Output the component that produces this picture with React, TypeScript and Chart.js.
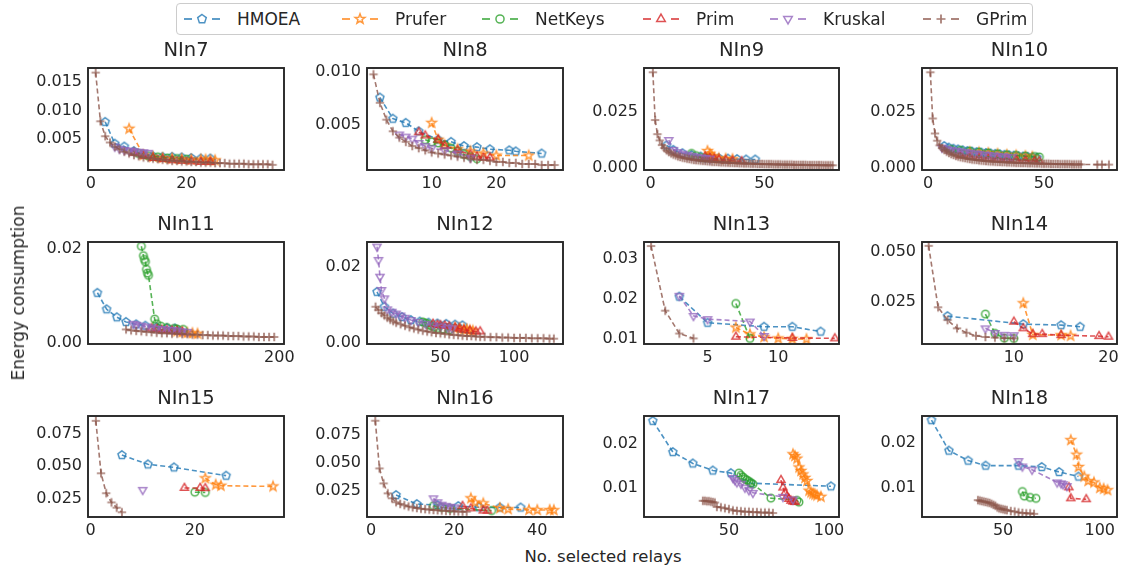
import React, { useEffect, useRef } from "react";
import { Chart, registerables } from "chart.js";
Chart.register(...registerables);

const FONT = "'DejaVu Sans', 'Liberation Sans', sans-serif";
const TEXT = "#262626";

const SERIES = ["HMOEA", "Prufer", "NetKeys", "Prim", "Kruskal", "GPrim"];
const COLORS = ["#1f77b4", "#ff7f0e", "#2ca02c", "#d62728", "#9467bd", "#8c564b"];
const MARKERS = ["pentagon", "star", "circle", "triangleUp", "triangleDown", "plus"];

// ---------------- NIn7 ----------------
const NIN7_HMOEA_X = [3, 5, 7, 9, 11, 13, 15, 17, 19, 21, 23, 25];
const NIN7_HMOEA_Y = [0.008, 0.0042, 0.0037, 0.0029, 0.0023, 0.002, 0.0019, 0.0019, 0.0018, 0.0017, 0.0016, 0.0016];
const NIN7_PRUFER_X = [8, 11, 13, 15, 17, 19, 21, 23, 24, 25, 26];
const NIN7_PRUFER_Y = [0.0068, 0.0022, 0.0019, 0.0017, 0.0016, 0.0015, 0.0014, 0.0014, 0.0014, 0.0013, 0.0013];
const NIN7_NETKEYS_X = [10, 12, 14, 16, 18, 20];
const NIN7_NETKEYS_Y = [0.0025, 0.0021, 0.0019, 0.0017, 0.0016, 0.0015];
const NIN7_PRIM_X = [9, 11, 13, 15, 17, 19, 21, 23, 25];
const NIN7_PRIM_Y = [0.0026, 0.0021, 0.0017, 0.0015, 0.0013, 0.0012, 0.0011, 0.001, 0.001];
const NIN7_KRUSKAL_X = [5, 6, 7, 8, 9, 10, 11, 12];
const NIN7_KRUSKAL_Y = [0.0037, 0.0033, 0.0031, 0.003, 0.0029, 0.0028, 0.0027, 0.0026];
const NIN7_GPRIM_X = [1, 2, 3, 4, 5, 6, 7, 8, 9, 10, 11, 12, 13, 14, 15, 16, 17, 18, 19, 20, 21, 22, 23, 24, 25, 26, 27, 28, 29, 30, 31, 32, 33, 34, 35, 36, 37, 38];
const NIN7_GPRIM_Y = [0.0166, 0.0081, 0.0055, 0.0044, 0.0037, 0.0032, 0.0028, 0.0025, 0.0022, 0.002, 0.0018, 0.0017, 0.0016, 0.0015, 0.0014, 0.0013, 0.0012, 0.0012, 0.0011, 0.0011, 0.001, 0.001, 0.0009, 0.0009, 0.0009, 0.0008, 0.0008, 0.0008, 0.0007, 0.0007, 0.0007, 0.0007, 0.0006, 0.0006, 0.0006, 0.0006, 0.0006, 0.0005];

// ---------------- NIn8 ----------------
const NIN8_HMOEA_X = [2, 4, 6, 8, 11, 13, 15, 17, 19, 22, 23, 27];
const NIN8_HMOEA_Y = [0.0076, 0.0056, 0.0052, 0.0044, 0.0036, 0.0034, 0.003, 0.0029, 0.0027, 0.0026, 0.0025, 0.0023];
const NIN8_PRUFER_X = [10, 11, 12, 14, 16, 18, 20, 25];
const NIN8_PRUFER_Y = [0.0052, 0.0036, 0.0031, 0.0027, 0.0025, 0.0023, 0.0021, 0.0021];
const NIN8_NETKEYS_X = [9, 10, 11, 12, 13, 14, 15, 16, 17];
const NIN8_NETKEYS_Y = [0.0036, 0.0034, 0.0033, 0.0031, 0.0028, 0.0025, 0.0022, 0.002, 0.0018];
const NIN8_PRIM_X = [8, 9, 11, 12, 14, 16, 17, 18, 19];
const NIN8_PRIM_Y = [0.0043, 0.004, 0.0036, 0.003, 0.0026, 0.0022, 0.002, 0.0019, 0.0019];
const NIN8_KRUSKAL_X = [5, 6, 7, 8, 9, 10, 12, 14, 16];
const NIN8_KRUSKAL_Y = [0.0041, 0.0039, 0.0037, 0.0033, 0.003, 0.0028, 0.0026, 0.0023, 0.0019];
const NIN8_GPRIM_X = [1, 2, 3, 4, 5, 6, 7, 8, 9, 10, 11, 12, 13, 14, 15, 16, 17, 18, 19, 20, 21, 22, 23, 24, 25, 26, 27, 28, 29];
const NIN8_GPRIM_Y = [0.0098, 0.0071, 0.0055, 0.0044, 0.0038, 0.0034, 0.003, 0.0028, 0.0026, 0.0024, 0.0023, 0.0022, 0.0021, 0.002, 0.0019, 0.0018, 0.0017, 0.0017, 0.0016, 0.0015, 0.0015, 0.0014, 0.0014, 0.0013, 0.0013, 0.0013, 0.0012, 0.0012, 0.0012];

// ---------------- NIn9 ----------------
const NIN9_HMOEA_X = [7, 10, 14, 18, 22, 26, 30, 34, 38, 42, 46];
const NIN9_HMOEA_Y = [0.01, 0.008, 0.0065, 0.0057, 0.005, 0.0046, 0.0043, 0.0041, 0.0039, 0.0037, 0.0037];
const NIN9_PRUFER_X = [25, 26, 27, 28, 30, 33, 36];
const NIN9_PRUFER_Y = [0.0075, 0.0062, 0.0052, 0.0046, 0.0042, 0.004, 0.0038];
const NIN9_NETKEYS_X = [18, 20, 22, 24];
const NIN9_NETKEYS_Y = [0.0064, 0.0054, 0.0046, 0.0043];
const NIN9_PRIM_X = [24, 26, 28, 30, 33, 36, 40];
const NIN9_PRIM_Y = [0.005, 0.0044, 0.004, 0.0036, 0.0033, 0.0031, 0.0029];
const NIN9_KRUSKAL_X = [8, 10, 12, 14, 16, 18, 20, 22, 24, 26];
const NIN9_KRUSKAL_Y = [0.0124, 0.008, 0.007, 0.0063, 0.0058, 0.0054, 0.005, 0.0047, 0.0044, 0.0041];
const NIN9_GPRIM_X = [1, 2, 3, 4, 5, 6, 7, 8, 9, 10, 11, 12, 13, 14, 15, 16, 17, 18, 19, 20, 21, 22, 23, 24, 25, 26, 27, 28, 29, 30, 31, 32, 33, 34, 35, 36, 37, 38, 39, 40, 41, 42, 43, 44, 45, 46, 47, 48, 49, 50, 51, 52, 53, 54, 55, 56, 57, 58, 59, 60, 61, 62, 63, 64, 65, 66, 67, 68, 69, 70, 71, 72, 73, 74, 75, 76, 77, 78, 79, 80];
const NIN9_GPRIM_Y = [
  0.0426, 0.0213, 0.015, 0.0122, 0.0101, 0.0088, 0.0078, 0.007, 0.0064, 0.0059,
  0.0055, 0.0051, 0.0048, 0.0045, 0.0043, 0.0041, 0.0039, 0.0037, 0.0035, 0.0034,
  0.0033, 0.0032, 0.0031, 0.003, 0.0029, 0.0028, 0.0027, 0.0026, 0.0026, 0.0025,
  0.0024, 0.0024, 0.0023, 0.0023, 0.0022, 0.0022, 0.0021, 0.0021, 0.002, 0.002,
  0.0019, 0.0019, 0.0019, 0.0018, 0.0018, 0.0018, 0.0017, 0.0017, 0.0017, 0.0016,
  0.0016, 0.0016, 0.0016, 0.0015, 0.0015, 0.0015, 0.0015, 0.0014, 0.0014, 0.0014,
  0.0014, 0.0014, 0.0013, 0.0013, 0.0013, 0.0013, 0.0013, 0.0013, 0.0012, 0.0012,
  0.0012, 0.0012, 0.0012, 0.0012, 0.0012, 0.0011, 0.0011, 0.0011, 0.0011, 0.0011,
];

// ---------------- NIn10 ----------------
const NIN10_HMOEA_X = [7, 9, 11, 13, 15, 17, 19, 21, 23, 25, 27, 29, 31, 33, 35, 37, 39, 41, 43, 45, 47];
const NIN10_HMOEA_Y = [0.0097, 0.009, 0.0085, 0.0082, 0.0078, 0.0075, 0.0072, 0.007, 0.0068, 0.0066, 0.0064, 0.0062, 0.006, 0.0058, 0.0056, 0.0054, 0.0052, 0.005, 0.0049, 0.0047, 0.0045];
const NIN10_PRUFER_X = [18, 22, 26, 30, 34, 38, 42, 45];
const NIN10_PRUFER_Y = [0.007, 0.0068, 0.0066, 0.0062, 0.0058, 0.0055, 0.0052, 0.0049];
const NIN10_NETKEYS_X = [10, 14, 18, 22, 26, 30, 34, 38, 42, 46, 48];
const NIN10_NETKEYS_Y = [0.0082, 0.0078, 0.0074, 0.007, 0.0066, 0.0062, 0.0058, 0.0055, 0.0052, 0.005, 0.0048];
const NIN10_PRIM_X = [14, 18, 22, 26, 30, 34, 38, 42, 46, 48];
const NIN10_PRIM_Y = [0.0055, 0.005, 0.0046, 0.0043, 0.004, 0.0037, 0.0035, 0.0032, 0.003, 0.0029];
const NIN10_KRUSKAL_X = [6, 8, 10, 12, 14, 16, 18, 20, 22, 24, 26, 28, 30, 32, 34, 36];
const NIN10_KRUSKAL_Y = [0.009, 0.0085, 0.008, 0.0076, 0.0073, 0.007, 0.0067, 0.0064, 0.0062, 0.0059, 0.0057, 0.0055, 0.0053, 0.0051, 0.0049, 0.0047];
const NIN10_GPRIM_X = [1, 2, 3, 4, 5, 6, 7, 8, 9, 10, 11, 12, 13, 14, 15, 16, 17, 18, 19, 20, 21, 22, 23, 24, 25, 26, 27, 28, 29, 30, 31, 32, 33, 34, 35, 36, 37, 38, 39, 40, 41, 42, 43, 44, 45, 46, 47, 48, 49, 50, 51, 52, 53, 54, 55, 56, 57, 58, 59, 60, 61, 62, 63, 64, 65, 66, 73, 75, 78];
const NIN10_GPRIM_Y = [
  0.0426, 0.022, 0.0153, 0.0121, 0.01, 0.0088, 0.0079, 0.0072, 0.0066, 0.0061,
  0.0057, 0.0053, 0.005, 0.0047, 0.0045, 0.0043, 0.0041, 0.0039, 0.0037, 0.0036,
  0.0035, 0.0033, 0.0032, 0.0031, 0.003, 0.0029, 0.0028, 0.0028, 0.0027, 0.0026,
  0.0026, 0.0025, 0.0025, 0.0024, 0.0024, 0.0023, 0.0023, 0.0022, 0.0022, 0.0021,
  0.0021, 0.0021, 0.002, 0.002, 0.002, 0.0019, 0.0019, 0.0019, 0.0018, 0.0018,
  0.0018, 0.0018, 0.0017, 0.0017, 0.0017, 0.0017, 0.0016, 0.0016, 0.0016, 0.0016,
  0.0016, 0.0015, 0.0015, 0.0015, 0.0015, 0.0015, 0.0014, 0.0014, 0.0014,
];

// ---------------- NIn11 ----------------
const NIN11_HMOEA_X = [22, 31, 41, 50, 60, 69, 80, 90, 98];
const NIN11_HMOEA_Y = [0.0107, 0.0072, 0.0055, 0.0045, 0.004, 0.0037, 0.0034, 0.0032, 0.0031];
const NIN11_PRUFER_X = [100, 105, 110, 115, 120];
const NIN11_PRUFER_Y = [0.0025, 0.0023, 0.0022, 0.0021, 0.002];
const NIN11_NETKEYS_X = [65, 67, 68, 69, 70, 71, 72, 78, 80, 84, 90, 97, 100, 106];
const NIN11_NETKEYS_Y = [0.0206, 0.0186, 0.0178, 0.0173, 0.0157, 0.0149, 0.0144, 0.0051, 0.0041, 0.0036, 0.0033, 0.0031, 0.003, 0.0029];
const NIN11_PRIM_X = [75, 80, 85, 90, 95, 100, 105];
const NIN11_PRIM_Y = [0.0031, 0.003, 0.0028, 0.0027, 0.0026, 0.0025, 0.0024];
const NIN11_KRUSKAL_X = [57, 60, 65, 70, 75, 80, 85, 90, 95, 100, 105, 110];
const NIN11_KRUSKAL_Y = [0.0041, 0.0039, 0.0037, 0.0035, 0.0033, 0.0031, 0.003, 0.0029, 0.0028, 0.0027, 0.0025, 0.0024];
const NIN11_GPRIM_X = [50, 55, 60, 65, 70, 75, 80, 85, 90, 95, 100, 105, 110, 115, 120, 125, 130, 135, 140, 145, 150, 155, 160, 165, 170, 175, 180, 185, 190, 195];
const NIN11_GPRIM_Y = [0.0029, 0.0027, 0.0026, 0.0025, 0.0024, 0.0023, 0.0022, 0.0021, 0.0021, 0.002, 0.002, 0.0019, 0.0019, 0.0018, 0.0018, 0.0017, 0.0017, 0.0016, 0.0016, 0.0016, 0.0015, 0.0015, 0.0015, 0.0014, 0.0014, 0.0014, 0.0013, 0.0013, 0.0013, 0.0013];

// ---------------- NIn12 ----------------
const NIN12_HMOEA_X = [7, 12, 18, 24, 30, 36, 42, 48, 54, 60, 65];
const NIN12_HMOEA_Y = [0.0134, 0.0095, 0.0077, 0.0068, 0.006, 0.0056, 0.0053, 0.0051, 0.005, 0.0048, 0.0046];
const NIN12_PRUFER_X = [60, 63, 66, 68, 70, 72];
const NIN12_PRUFER_Y = [0.004, 0.0038, 0.0036, 0.0035, 0.0033, 0.0032];
const NIN12_NETKEYS_X = [38, 40, 42, 44, 46, 48, 52, 56];
const NIN12_NETKEYS_Y = [0.0055, 0.0052, 0.0048, 0.0044, 0.0041, 0.0038, 0.0036, 0.0034];
const NIN12_PRIM_X = [45, 48, 50, 53, 56, 60, 63, 66, 70, 74, 77];
const NIN12_PRIM_Y = [0.005, 0.0047, 0.0046, 0.0045, 0.0043, 0.004, 0.0037, 0.0034, 0.0032, 0.003, 0.003];
const NIN12_KRUSKAL_X = [7, 8, 9, 10, 12, 14, 17, 20, 23, 26, 30, 35, 40, 45, 50, 55, 58];
const NIN12_KRUSKAL_Y = [0.0253, 0.0218, 0.0174, 0.0139, 0.0117, 0.0088, 0.0082, 0.0077, 0.0072, 0.0066, 0.006, 0.0055, 0.005, 0.0046, 0.0043, 0.004, 0.0038];
const NIN12_GPRIM_X = [6, 8, 10, 12, 14, 16, 18, 20, 23, 26, 29, 32, 35, 38, 41, 44, 47, 50, 53, 56, 59, 62, 65, 68, 71, 74, 77, 80, 84, 88, 92, 96, 100, 104, 108, 112, 116, 120, 124, 127];
const NIN12_GPRIM_Y = [0.0095, 0.0086, 0.0078, 0.0072, 0.0066, 0.0061, 0.0057, 0.0053, 0.0049, 0.0045, 0.0041, 0.0038, 0.0035, 0.0032, 0.003, 0.0028, 0.0026, 0.0025, 0.0024, 0.0022, 0.0021, 0.002, 0.0019, 0.0018, 0.0018, 0.0017, 0.0016, 0.0016, 0.0015, 0.0015, 0.0014, 0.0014, 0.0013, 0.0013, 0.0013, 0.0012, 0.0012, 0.0012, 0.0011, 0.0011];

// ---------------- NIn13 ----------------
const NIN13_HMOEA_X = [3, 5, 9, 11, 13];
const NIN13_HMOEA_Y = [0.0205, 0.014, 0.013, 0.013, 0.0118];
const NIN13_PRUFER_X = [7, 8, 9, 10, 11, 12];
const NIN13_PRUFER_Y = [0.0128, 0.0111, 0.0104, 0.0101, 0.01, 0.0099];
const NIN13_NETKEYS_X = [7, 8];
const NIN13_NETKEYS_Y = [0.0188, 0.0101];
const NIN13_PRIM_X = [7, 11, 14];
const NIN13_PRIM_Y = [0.0105, 0.0102, 0.0101];
const NIN13_KRUSKAL_X = [3, 4, 5, 8, 9];
const NIN13_KRUSKAL_Y = [0.0207, 0.0157, 0.0149, 0.0143, 0.0107];
const NIN13_GPRIM_X = [1, 2, 3, 4];
const NIN13_GPRIM_Y = [0.0331, 0.017, 0.0113, 0.0101];

// ---------------- NIn14 ----------------
const NIN14_HMOEA_X = [3, 11, 15, 17];
const NIN14_HMOEA_Y = [0.0178, 0.0138, 0.0133, 0.0125];
const NIN14_PRUFER_X = [11, 12, 15, 16];
const NIN14_PRUFER_Y = [0.0242, 0.0085, 0.0083, 0.008];
const NIN14_NETKEYS_X = [7, 8, 9, 10];
const NIN14_NETKEYS_Y = [0.0188, 0.0092, 0.0068, 0.0067];
const NIN14_PRIM_X = [10, 11, 12, 13, 15, 19, 20];
const NIN14_PRIM_Y = [0.015, 0.0117, 0.0088, 0.0088, 0.0083, 0.0078, 0.0075];
const NIN14_KRUSKAL_X = [7, 8, 9, 10];
const NIN14_KRUSKAL_Y = [0.0117, 0.0094, 0.0085, 0.0083];
const NIN14_GPRIM_X = [1, 2, 3, 4, 5, 6, 7, 8, 9, 10];
const NIN14_GPRIM_Y = [0.0528, 0.0222, 0.0158, 0.0117, 0.0095, 0.008, 0.0074, 0.0071, 0.0068, 0.0067];

// ---------------- NIn15 ----------------
const NIN15_HMOEA_X = [6, 11, 16, 26];
const NIN15_HMOEA_Y = [0.0586, 0.0515, 0.0492, 0.0429];
const NIN15_PRUFER_X = [22, 24, 25, 35];
const NIN15_PRUFER_Y = [0.0409, 0.036, 0.0352, 0.0347];
const NIN15_NETKEYS_X = [20, 22];
const NIN15_NETKEYS_Y = [0.0303, 0.0301];
const NIN15_PRIM_X = [18, 21, 22];
const NIN15_PRIM_Y = [0.0335, 0.0335, 0.0333];
const NIN15_KRUSKAL_X = [10];
const NIN15_KRUSKAL_Y = [0.0321];
const NIN15_GPRIM_X = [1, 2, 3, 4, 5, 6];
const NIN15_GPRIM_Y = [0.0846, 0.0447, 0.0295, 0.0225, 0.0185, 0.015];

// ---------------- NIn16 ----------------
const NIN16_HMOEA_X = [6, 11, 16, 21, 26, 31, 36];
const NIN16_HMOEA_Y = [0.0214, 0.0134, 0.0125, 0.0116, 0.0105, 0.0103, 0.0103];
const NIN16_PRUFER_X = [24, 25, 27, 31, 33, 38, 40, 43, 44];
const NIN16_PRUFER_Y = [0.0185, 0.0148, 0.014, 0.0097, 0.0088, 0.0082, 0.008, 0.008, 0.0079];
const NIN16_NETKEYS_X = [15, 17, 19, 29];
const NIN16_NETKEYS_Y = [0.0118, 0.0104, 0.0095, 0.0075];
const NIN16_PRIM_X = [22, 24, 27, 28];
const NIN16_PRIM_Y = [0.0116, 0.0095, 0.0075, 0.0074];
const NIN16_KRUSKAL_X = [15, 16, 17, 18, 19, 20];
const NIN16_KRUSKAL_Y = [0.0185, 0.015, 0.0128, 0.0118, 0.011, 0.0105];
const NIN16_GPRIM_X = [1, 2, 3, 4, 5, 6, 7, 8, 9, 10, 11, 12, 13, 14, 15, 16, 17, 18, 19, 20, 21, 22, 23];
const NIN16_GPRIM_Y = [0.0878, 0.0452, 0.0318, 0.0229, 0.0185, 0.015, 0.0135, 0.0123, 0.0112, 0.0104, 0.0098, 0.0092, 0.0088, 0.0084, 0.0081, 0.0078, 0.0076, 0.0073, 0.0071, 0.0069, 0.0067, 0.0066, 0.0065];

// ---------------- NIn17 ----------------
const NIN17_HMOEA_X = [12, 22, 32, 42, 51, 61, 101];
const NIN17_HMOEA_Y = [0.0252, 0.0181, 0.0155, 0.0139, 0.0133, 0.011, 0.0103];
const NIN17_PRUFER_X = [82, 83, 84, 85, 86, 87, 88, 89, 90, 91, 92, 93, 94, 96];
const NIN17_PRUFER_Y = [0.0176, 0.0172, 0.0166, 0.0146, 0.0138, 0.013, 0.0122, 0.0115, 0.0093, 0.0089, 0.0086, 0.0084, 0.0082, 0.0079];
const NIN17_NETKEYS_X = [55, 56, 57, 58, 59, 60, 61, 62, 71, 84, 85];
const NIN17_NETKEYS_Y = [0.0133, 0.0128, 0.0124, 0.012, 0.0117, 0.0114, 0.0111, 0.0108, 0.0076, 0.0071, 0.0067];
const NIN17_PRIM_X = [76, 77, 78, 79, 80, 81, 82, 83];
const NIN17_PRIM_Y = [0.0117, 0.01, 0.0088, 0.008, 0.0074, 0.007, 0.0068, 0.0067];
const NIN17_KRUSKAL_X = [52, 53, 54, 56, 58, 60, 62, 77, 82];
const NIN17_KRUSKAL_Y = [0.0122, 0.0117, 0.0112, 0.0109, 0.01, 0.0094, 0.0088, 0.0079, 0.0073];
const NIN17_GPRIM_X = [37, 38, 39, 40, 41, 42, 43, 44, 46, 48, 50, 52, 54, 56, 58, 60, 62, 64, 66, 68, 70, 72];
const NIN17_GPRIM_Y = [0.007, 0.007, 0.0069, 0.0069, 0.0068, 0.0067, 0.0066, 0.0056, 0.0055, 0.0053, 0.0051, 0.0048, 0.0047, 0.0046, 0.0045, 0.0045, 0.0044, 0.0044, 0.0043, 0.0043, 0.0043, 0.0042];

// ---------------- NIn18 ----------------
const NIN18_HMOEA_X = [13, 22, 32, 41, 58, 70, 79, 89];
const NIN18_HMOEA_Y = [0.025, 0.0183, 0.0161, 0.015, 0.015, 0.0147, 0.0136, 0.0126];
const NIN18_PRUFER_X = [85, 88, 89, 92, 94, 97, 100, 102, 104];
const NIN18_PRUFER_Y = [0.0206, 0.0174, 0.0147, 0.0126, 0.0116, 0.0113, 0.0101, 0.0099, 0.0096];
const NIN18_NETKEYS_X = [60, 61, 64, 67];
const NIN18_NETKEYS_Y = [0.0093, 0.0083, 0.008, 0.0078];
const NIN18_PRIM_X = [84, 85, 93];
const NIN18_PRIM_Y = [0.0102, 0.0078, 0.0076];
const NIN18_KRUSKAL_X = [58, 60, 65, 78, 80, 81, 83];
const NIN18_KRUSKAL_Y = [0.016, 0.0148, 0.0141, 0.0113, 0.0111, 0.0109, 0.0105];
const NIN18_GPRIM_X = [37, 38, 39, 40, 41, 42, 43, 44, 45, 46, 47, 48, 49, 50, 51, 52, 54, 56, 58, 60, 62, 64, 66];
const NIN18_GPRIM_Y = [0.0074, 0.0073, 0.0072, 0.0071, 0.007, 0.0069, 0.0068, 0.0066, 0.0064, 0.0062, 0.0058, 0.0056, 0.0055, 0.0054, 0.0053, 0.0052, 0.005, 0.0049, 0.0047, 0.0046, 0.0045, 0.0045, 0.0044];

// Panel ticks and titles
const TITLES = ["NIn7", "NIn8", "NIn9", "NIn10", "NIn11", "NIn12", "NIn13", "NIn14", "NIn15", "NIn16", "NIn17", "NIn18"];
const X_TICKS = [[0, 20], [10, 20], [0, 50], [0, 50], [100, 200], [50, 100], [5, 10], [10, 20], [0, 20], [0, 20, 40], [50, 100], [50, 100]];
const Y_TICKS = [
  [0.005, 0.01, 0.015], [0.005, 0.01], [0, 0.025], [0, 0.025],
  [0, 0.02], [0, 0.02], [0.01, 0.02, 0.03], [0.025, 0.05],
  [0.025, 0.05, 0.075], [0.025, 0.05, 0.075], [0.01, 0.02], [0.01, 0.02],
];
const Y_DEC = [3, 3, 3, 3, 2, 2, 2, 3, 3, 3, 2, 2];
const X_RANGE = [[-0.6, 40.4], [0, 30.3], [-2.9, 82.8], [-2.6, 81.5], [12.8, 204.6], [0.2, 133.2], [0.5, 14.3], [0.3, 20.9], [-0.5, 37.1], [-1.0, 46.2], [7.6, 105], [8.1, 108.9]];
const Y_RANGE = [[-0.0004, 0.0174], [0.00073, 0.0104], [-0.001, 0.0445], [-0.001, 0.0445], [-0.0002, 0.0215], [-0.0003, 0.0265], [0.0087, 0.0341], [0.0039, 0.0547], [0.0114, 0.0883], [0.0018, 0.092], [0.0033, 0.0263], [0.0037, 0.0259]];

const PANEL_DATA: number[][][] = [
  [NIN7_HMOEA_X, NIN7_HMOEA_Y, NIN7_PRUFER_X, NIN7_PRUFER_Y, NIN7_NETKEYS_X, NIN7_NETKEYS_Y, NIN7_PRIM_X, NIN7_PRIM_Y, NIN7_KRUSKAL_X, NIN7_KRUSKAL_Y, NIN7_GPRIM_X, NIN7_GPRIM_Y],
  [NIN8_HMOEA_X, NIN8_HMOEA_Y, NIN8_PRUFER_X, NIN8_PRUFER_Y, NIN8_NETKEYS_X, NIN8_NETKEYS_Y, NIN8_PRIM_X, NIN8_PRIM_Y, NIN8_KRUSKAL_X, NIN8_KRUSKAL_Y, NIN8_GPRIM_X, NIN8_GPRIM_Y],
  [NIN9_HMOEA_X, NIN9_HMOEA_Y, NIN9_PRUFER_X, NIN9_PRUFER_Y, NIN9_NETKEYS_X, NIN9_NETKEYS_Y, NIN9_PRIM_X, NIN9_PRIM_Y, NIN9_KRUSKAL_X, NIN9_KRUSKAL_Y, NIN9_GPRIM_X, NIN9_GPRIM_Y],
  [NIN10_HMOEA_X, NIN10_HMOEA_Y, NIN10_PRUFER_X, NIN10_PRUFER_Y, NIN10_NETKEYS_X, NIN10_NETKEYS_Y, NIN10_PRIM_X, NIN10_PRIM_Y, NIN10_KRUSKAL_X, NIN10_KRUSKAL_Y, NIN10_GPRIM_X, NIN10_GPRIM_Y],
  [NIN11_HMOEA_X, NIN11_HMOEA_Y, NIN11_PRUFER_X, NIN11_PRUFER_Y, NIN11_NETKEYS_X, NIN11_NETKEYS_Y, NIN11_PRIM_X, NIN11_PRIM_Y, NIN11_KRUSKAL_X, NIN11_KRUSKAL_Y, NIN11_GPRIM_X, NIN11_GPRIM_Y],
  [NIN12_HMOEA_X, NIN12_HMOEA_Y, NIN12_PRUFER_X, NIN12_PRUFER_Y, NIN12_NETKEYS_X, NIN12_NETKEYS_Y, NIN12_PRIM_X, NIN12_PRIM_Y, NIN12_KRUSKAL_X, NIN12_KRUSKAL_Y, NIN12_GPRIM_X, NIN12_GPRIM_Y],
  [NIN13_HMOEA_X, NIN13_HMOEA_Y, NIN13_PRUFER_X, NIN13_PRUFER_Y, NIN13_NETKEYS_X, NIN13_NETKEYS_Y, NIN13_PRIM_X, NIN13_PRIM_Y, NIN13_KRUSKAL_X, NIN13_KRUSKAL_Y, NIN13_GPRIM_X, NIN13_GPRIM_Y],
  [NIN14_HMOEA_X, NIN14_HMOEA_Y, NIN14_PRUFER_X, NIN14_PRUFER_Y, NIN14_NETKEYS_X, NIN14_NETKEYS_Y, NIN14_PRIM_X, NIN14_PRIM_Y, NIN14_KRUSKAL_X, NIN14_KRUSKAL_Y, NIN14_GPRIM_X, NIN14_GPRIM_Y],
  [NIN15_HMOEA_X, NIN15_HMOEA_Y, NIN15_PRUFER_X, NIN15_PRUFER_Y, NIN15_NETKEYS_X, NIN15_NETKEYS_Y, NIN15_PRIM_X, NIN15_PRIM_Y, NIN15_KRUSKAL_X, NIN15_KRUSKAL_Y, NIN15_GPRIM_X, NIN15_GPRIM_Y],
  [NIN16_HMOEA_X, NIN16_HMOEA_Y, NIN16_PRUFER_X, NIN16_PRUFER_Y, NIN16_NETKEYS_X, NIN16_NETKEYS_Y, NIN16_PRIM_X, NIN16_PRIM_Y, NIN16_KRUSKAL_X, NIN16_KRUSKAL_Y, NIN16_GPRIM_X, NIN16_GPRIM_Y],
  [NIN17_HMOEA_X, NIN17_HMOEA_Y, NIN17_PRUFER_X, NIN17_PRUFER_Y, NIN17_NETKEYS_X, NIN17_NETKEYS_Y, NIN17_PRIM_X, NIN17_PRIM_Y, NIN17_KRUSKAL_X, NIN17_KRUSKAL_Y, NIN17_GPRIM_X, NIN17_GPRIM_Y],
  [NIN18_HMOEA_X, NIN18_HMOEA_Y, NIN18_PRUFER_X, NIN18_PRUFER_Y, NIN18_NETKEYS_X, NIN18_NETKEYS_Y, NIN18_PRIM_X, NIN18_PRIM_Y, NIN18_KRUSKAL_X, NIN18_KRUSKAL_Y, NIN18_GPRIM_X, NIN18_GPRIM_Y],
];

// Layout (page pixels) of the plot boxes
const COL_X = [[88, 284], [367, 563], [644, 839], [922, 1117]];
const ROW_Y = [[68, 170], [242, 344], [416, 517]];
const PAD_L = 75, PAD_R = 20, PAD_T = 32, PAD_B = 26;

function rgba(hex: string, a: number) {
  const n = parseInt(hex.slice(1), 16);
  return `rgba(${(n >> 16) & 255},${(n >> 8) & 255},${n & 255},${a})`;
}

function polyPoints(shape: string, cx: number, cy: number, r: number): number[][] {
  const pts: number[][] = [];
  const deg = Math.PI / 180;
  if (shape === "pentagon") {
    for (let k = 0; k < 5; k++) { const a = (-90 + 72 * k) * deg; pts.push([cx + r * Math.cos(a), cy + r * Math.sin(a)]); }
  } else if (shape === "star") {
    for (let k = 0; k < 10; k++) { const a = (-90 + 36 * k) * deg; const rr = k % 2 === 0 ? r * 1.15 : r * 0.48; pts.push([cx + rr * Math.cos(a), cy + rr * Math.sin(a)]); }
  } else if (shape === "triangleUp") {
    for (const d of [-90, 30, 150]) pts.push([cx + r * 1.1 * Math.cos(d * deg), cy + r * 1.1 * Math.sin(d * deg)]);
  } else if (shape === "triangleDown") {
    for (const d of [90, 210, 330]) pts.push([cx + r * 1.1 * Math.cos(d * deg), cy + r * 1.1 * Math.sin(d * deg)]);
  }
  return pts;
}

function traceMarker(ctx: CanvasRenderingContext2D, shape: string, cx: number, cy: number, r: number) {
  ctx.beginPath();
  if (shape === "circle") {
    ctx.arc(cx, cy, r * 0.9, 0, Math.PI * 2);
  } else if (shape === "plus") {
    ctx.moveTo(cx - r, cy); ctx.lineTo(cx + r, cy);
    ctx.moveTo(cx, cy - r); ctx.lineTo(cx, cy + r);
  } else {
    const pts = polyPoints(shape, cx, cy, r);
    pts.forEach((p, i) => (i === 0 ? ctx.moveTo(p[0], p[1]) : ctx.lineTo(p[0], p[1])));
    ctx.closePath();
  }
  ctx.stroke();
}

function makeMarker(shape: string, color: string, r: number) {
  const s = 16;
  const c = document.createElement("canvas");
  c.width = s; c.height = s;
  const ctx = c.getContext("2d")!;
  ctx.strokeStyle = rgba(color, 0.8);
  ctx.lineWidth = shape === "plus" ? 1.7 : 1.5;
  traceMarker(ctx, shape, s / 2, s / 2, r);
  return c;
}

const boxPlugin = {
  id: "boxFrame",
  afterDraw(chart: any) {
    const { ctx, chartArea: a } = chart;
    ctx.save();
    ctx.strokeStyle = TEXT;
    ctx.lineWidth = 1.9;
    ctx.strokeRect(a.left, a.top, a.right - a.left, a.bottom - a.top);
    ctx.restore();
  },
};

function Panel({ idx }: { idx: number }) {
  const ref = useRef<HTMLCanvasElement>(null);
  const col = idx % 4, row = Math.floor(idx / 4);
  const [bl, br] = COL_X[col];
  const [bt, bb] = ROW_Y[row];
  const W = br - bl + PAD_L + PAD_R;
  const H = bb - bt + PAD_T + PAD_B;
  useEffect(() => {
    const d = PANEL_DATA[idx];
    const order = [5, 4, 3, 2, 1, 0];
    const datasets = order.map((s) => ({
      label: SERIES[s],
      data: d[2 * s].map((x, k) => ({ x, y: d[2 * s + 1][k] })),
      showLine: true,
      borderColor: rgba(COLORS[s], 0.8),
      borderWidth: 1.6,
      borderDash: [5, 3],
      backgroundColor: "transparent",
      pointStyle: makeMarker(MARKERS[s], COLORS[s], 4.2),
      pointRadius: 4,
      pointHoverRadius: 4,
    }));
    const tickFont = { family: FONT, size: 16 };
    const chart = new Chart(ref.current!, {
      type: "scatter",
      data: { datasets },
      options: {
        responsive: false,
        animation: false,
        events: [],
        layout: { padding: { left: 0, right: PAD_R, top: 0, bottom: 0 } },
        plugins: {
          legend: { display: false },
          tooltip: { enabled: false },
          title: {
            display: true,
            text: TITLES[idx],
            color: TEXT,
            fullSize: false,
            font: { family: FONT, size: 19.5, weight: "normal" },
            padding: { top: 3, bottom: 5.6 },
          },
        },
        scales: {
          x: {
            type: "linear",
            min: X_RANGE[idx][0],
            max: X_RANGE[idx][1],
            grid: { display: false, drawTicks: false },
            border: { display: false },
            ticks: { color: TEXT, font: tickFont, padding: 4, autoSkip: false, maxRotation: 0, callback: (v: any) => String(v) },
            afterBuildTicks: (s: any) => { s.ticks = X_TICKS[idx].map((v) => ({ value: v })); },
            afterFit: (s: any) => { s.height = PAD_B; },
          },
          y: {
            type: "linear",
            min: Y_RANGE[idx][0],
            max: Y_RANGE[idx][1],
            grid: { display: false, drawTicks: false },
            border: { display: false },
            ticks: { color: TEXT, font: tickFont, padding: 6, autoSkip: false, callback: (v: any) => Number(v).toFixed(Y_DEC[idx]) },
            afterBuildTicks: (s: any) => { s.ticks = Y_TICKS[idx].map((v) => ({ value: v })); },
            afterFit: (s: any) => { s.width = PAD_L; },
          },
        },
      } as any,
      plugins: [boxPlugin],
    });
    return () => chart.destroy();
  }, [idx]);
  return (
    <canvas
      ref={ref}
      width={W}
      height={H}
      style={{ position: "absolute", left: bl - PAD_L, top: bt - PAD_T, width: W, height: H }}
    />
  );
}

function LegendIcon({ s }: { s: number }) {
  const color = rgba(COLORS[s], 0.8);
  const shape = MARKERS[s];
  const cx = 18, cy = 9, r = 4.5;
  let mk: React.ReactNode;
  if (shape === "circle") mk = <circle cx={cx} cy={cy} r={r * 0.9} fill="none" stroke={color} strokeWidth={1.5} />;
  else if (shape === "plus") mk = <path d={`M${cx - r} ${cy}H${cx + r}M${cx} ${cy - r}V${cy + r}`} stroke={color} strokeWidth={1.7} fill="none" />;
  else mk = <polygon points={polyPoints(shape, cx, cy, r).map((p) => p.join(",")).join(" ")} fill="none" stroke={color} strokeWidth={1.5} />;
  return (
    <svg width={36} height={18} style={{ display: "block" }}>
      <line x1={0} y1={cy} x2={8} y2={cy} stroke={color} strokeWidth={1.8} />
      <line x1={28} y1={cy} x2={36} y2={cy} stroke={color} strokeWidth={1.8} />
      {mk}
    </svg>
  );
}

const LEGEND_CENTERS = [202, 360, 500, 661, 788, 941];

export default function App() {
  return (
    <div style={{ position: "absolute", left: 0, top: 0, width: 1128, height: 571, background: "#fff", overflow: "hidden", fontFamily: FONT, color: TEXT }}>
      {TITLES.map((_, i) => (
        <Panel key={i} idx={i} />
      ))}
      <div style={{ position: "absolute", left: 176, top: 3, width: 857, height: 32, border: "1px solid #cccccc", borderRadius: 4, boxSizing: "border-box", background: "#fff" }} />
      {SERIES.map((name, s) => (
        <div key={name} style={{ position: "absolute", left: LEGEND_CENTERS[s] - 18, top: 10, display: "flex", alignItems: "center", height: 18 }}>
          <LegendIcon s={s} />
          <span style={{ marginLeft: 17, fontSize: 17, lineHeight: "18px", whiteSpace: "nowrap" }}>{name}</span>
        </div>
      ))}
      <div style={{ position: "absolute", left: 603, top: 556, transform: "translate(-50%,-50%)", fontSize: 16.5, whiteSpace: "nowrap" }}>No. selected relays</div>
      <div style={{ position: "absolute", left: 18, top: 293, transform: "translate(-50%,-50%) rotate(-90deg)", fontSize: 17, whiteSpace: "nowrap" }}>Energy consumption</div>
    </div>
  );
}
